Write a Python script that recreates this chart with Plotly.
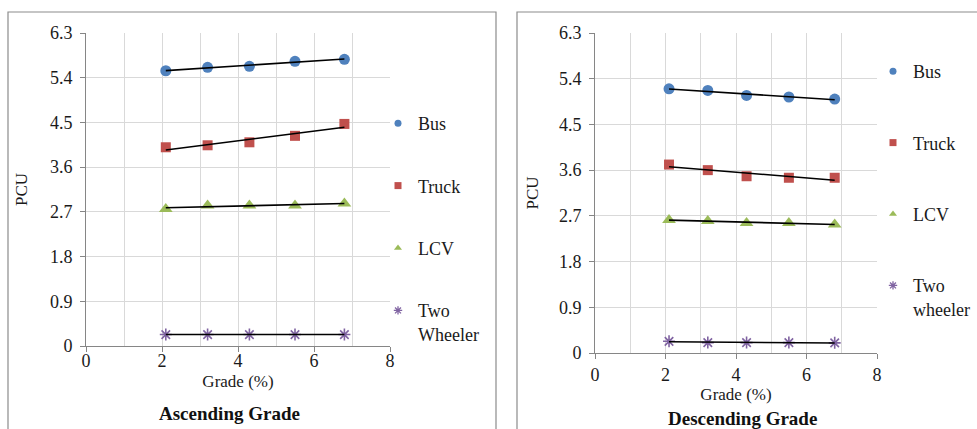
import numpy as np
import plotly.graph_objects as go

W, H = 977, 429

# ---------------- data ----------------
vehicle_types = ["Bus", "Truck", "LCV", "Two Wheeler"]
legend_labels_asc = ["Bus", "Truck", "LCV", "Two<br>Wheeler"]
legend_labels_desc = ["Bus", "Truck", "LCV", "Two<br>wheeler"]

grade_asc = [2.1, 3.2, 4.3, 5.5, 6.8]
bus_asc = [5.54, 5.61, 5.63, 5.73, 5.77]
truck_asc = [4.00, 4.04, 4.10, 4.23, 4.47]
lcv_asc = [2.76, 2.83, 2.83, 2.83, 2.87]
tw_asc = [0.23, 0.23, 0.23, 0.23, 0.23]

grade_desc = [2.1, 3.2, 4.3, 5.5, 6.8]
bus_desc = [5.20, 5.17, 5.07, 5.04, 5.00]
truck_desc = [3.71, 3.60, 3.48, 3.45, 3.45]
lcv_desc = [2.62, 2.60, 2.56, 2.56, 2.53]
tw_desc = [0.23, 0.205, 0.205, 0.205, 0.20]

y_ticks = [0, 0.9, 1.8, 2.7, 3.6, 4.5, 5.4, 6.3]
y_tick_labels = ["0", "0.9", "1.8", "2.7", "3.6", "4.5", "5.4", "6.3"]
x_ticks = [0, 2, 4, 6, 8]

# ---------------- styles ----------------
colors = ["#4F81BD", "#C0504D", "#9BBB59", "#8064A2"]
symbols = ["circle", "square", "triangle-up", "asterisk-open"]
sizes = [11, 10, 12, 10]
FONT = "Liberation Serif"
TXT = "#1a1a1a"

def px_x(p):
    return p / W

def px_y(p):
    return 1 - p / H

fig = go.Figure()

panels = [
    ("x", "y", "legend", grade_asc, [bus_asc, truck_asc, lcv_asc, tw_asc], legend_labels_asc),
    ("x2", "y2", "legend2", grade_desc, [bus_desc, truck_desc, lcv_desc, tw_desc], legend_labels_desc),
]

for xa, ya, leg, grades, series, labels in panels:
    for i, vals in enumerate(series):
        fig.add_trace(go.Scatter(
            x=grades, y=vals, mode="markers", xaxis=xa, yaxis=ya,
            marker=dict(symbol=symbols[i], size=sizes[i], color=colors[i],
                        line=dict(color=colors[i], width=1.6 if i == 3 else 0)),
            showlegend=False, hoverinfo="skip"))
        g = np.array(grades)
        slope, icpt = np.polyfit(g, np.array(vals), 1)
        fig.add_trace(go.Scatter(
            x=[g.min(), g.max()], y=[icpt + slope * g.min(), icpt + slope * g.max()],
            mode="lines", xaxis=xa, yaxis=ya,
            line=dict(color="black", width=1.6), showlegend=False, hoverinfo="skip"))
    for i, lab in enumerate(labels):
        fig.add_trace(go.Scatter(
            x=[None], y=[None], mode="markers", xaxis=xa, yaxis=ya,
            marker=dict(symbol=symbols[i], size=7, color=colors[i],
                        line=dict(color=colors[i], width=1.3 if i == 3 else 0)),
            name=lab, legend=leg, legendgroup=f"{leg}_{i}", showlegend=True))

axis_common = dict(
    showgrid=True, gridcolor="#D9D9D9", gridwidth=1,
    showline=True, linecolor="#868686", linewidth=1,
    ticks="outside", ticklen=5, tickcolor="#868686",
    tickfont=dict(family=FONT, size=18, color=TXT),
    zeroline=False, fixedrange=True, automargin=False,
)
x_minor = dict(dtick=1, showgrid=True, gridcolor="#D9D9D9", gridwidth=1, ticks="")

fig.update_layout(
    width=W, height=H,
    margin=dict(l=0, r=0, t=0, b=0, autoexpand=False),
    paper_bgcolor="white", plot_bgcolor="white",
    font=dict(family=FONT, color=TXT),
    xaxis=dict(domain=[px_x(86), px_x(390)], range=[0, 8], tickvals=x_ticks,
               anchor="y", minor=x_minor, ticklabelstandoff=-7,
               title=dict(text="Grade (%)", font=dict(family=FONT, size=17), standoff=5),
               **axis_common),
    yaxis=dict(domain=[px_y(346), px_y(33)], range=[0, 6.3], tickvals=y_ticks,
               ticktext=y_tick_labels, anchor="x", ticklabelstandoff=4,
               title=dict(text="PCU", font=dict(family=FONT, size=17), standoff=17),
               **axis_common),
    xaxis2=dict(domain=[px_x(595), px_x(877)], range=[0, 8], tickvals=x_ticks,
                anchor="y2", minor=x_minor, ticklabelstandoff=0,
                title=dict(text="Grade (%)", font=dict(family=FONT, size=17), standoff=0),
                **axis_common),
    yaxis2=dict(domain=[px_y(353), px_y(33)], range=[0, 6.3], tickvals=y_ticks,
                ticktext=y_tick_labels, anchor="x2", ticklabelstandoff=4,
                title=dict(text="PCU", font=dict(family=FONT, size=17), standoff=15),
                **axis_common),
    legend=dict(x=px_x(378), y=px_y(105), xanchor="left", yanchor="top",
                font=dict(family=FONT, size=18, color=TXT),
                bgcolor="rgba(0,0,0,0)", tracegroupgap=36, valign="top",
                traceorder="grouped"),
    legend2=dict(x=px_x(873), y=px_y(53), xanchor="left", yanchor="top",
                 font=dict(family=FONT, size=18, color=TXT),
                 bgcolor="rgba(0,0,0,0)", tracegroupgap=45, valign="top",
                 traceorder="grouped"),
    shapes=[
        dict(type="rect", xref="paper", yref="paper",
             x0=px_x(8), x1=px_x(496), y0=-0.1, y1=px_y(12),
             line=dict(color="#8C8C8C", width=1.2), fillcolor="rgba(0,0,0,0)", layer="below"),
        dict(type="rect", xref="paper", yref="paper",
             x0=px_x(517), x1=1.1, y0=-0.1, y1=px_y(12),
             line=dict(color="#8C8C8C", width=1.2), fillcolor="rgba(0,0,0,0)", layer="below"),
    ],
    annotations=[
        dict(text="<b>Ascending Grade</b>", x=px_x(229), y=px_y(413), xref="paper", yref="paper",
             showarrow=False, xanchor="center", yanchor="middle",
             font=dict(family=FONT, size=19, color="#111")),
        dict(text="<b>Descending Grade</b>", x=px_x(742), y=px_y(418), xref="paper", yref="paper",
             showarrow=False, xanchor="center", yanchor="middle",
             font=dict(family=FONT, size=19, color="#111")),
    ],
)

fig.write_html("out.html", config={"displayModeBar": False},
               post_script="document.body.style.margin='0';document.body.style.padding='0';")
